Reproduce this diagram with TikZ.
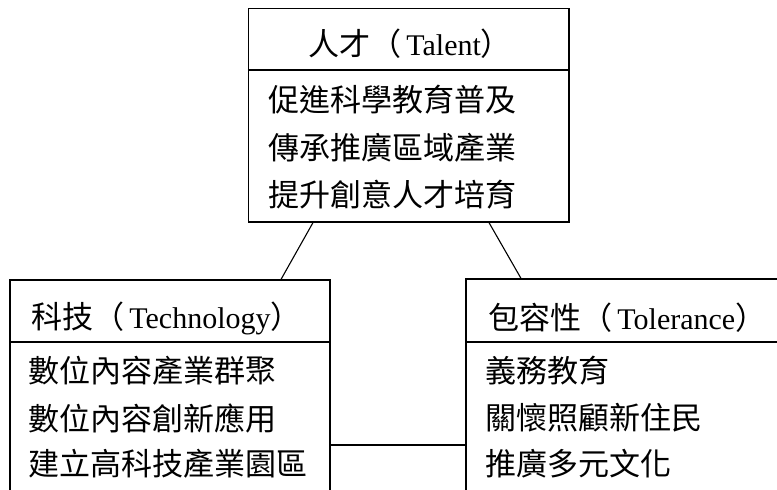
\documentclass[tikz,border=0pt]{standalone}
\usepackage{fontspec}
\setmainfont{Liberation Serif}
\newfontfamily\cjk{Noto Sans CJK TC}[Scale=1.035]
\usetikzlibrary{calc}
\begin{document}
\begin{tikzpicture}[x=1pt,y=1pt,
  box/.style={draw,line width=1.2pt,rectangle,inner sep=0pt},
  txt/.style={anchor=west,inner sep=0pt,font=\fontsize{30}{34}\selectfont\cjk},
  hdr/.style={anchor=west,inner sep=0pt,font=\fontsize{30}{34}\selectfont},
  link/.style={line width=1.1pt}]
\useasboundingbox (0,0) rectangle (777,-490);
\clip (0,0) rectangle (777,-490);
% boxes
\node[box,minimum width=320.5pt,minimum height=213.5pt] (talent) at (408.75,-115.25) {};
\node[box,minimum width=320pt,minimum height=240pt] (tech) at (170,-400) {};
\node[box,minimum width=334pt,minimum height=240pt] (tol) at (633,-399) {};
% dividers
\draw[link] (talent.west |- 0,-70) coordinate (td1) -- (talent.east |- 0,-70) coordinate (td2);
\draw[link] (tech.west |- 0,-342) coordinate (kd1) -- (tech.east |- 0,-342) coordinate (kd2);
\draw[link] (tol.west |- 0,-342) coordinate (ld1) -- (tol.east |- 0,-342) coordinate (ld2);
% headers
\node[hdr] (th) at (308,-44) {{\cjk 人才（}\,Talent{\cjk ）}};
\node[hdr] (kh) at (31,-318) {{\cjk 科技（}\,Technology{\cjk ）}};
\node[hdr] (lh) at (488,-318) {{\cjk 包容性（}\,Tolerance{\cjk ）}};
% items
\node[txt] (t1) at (268,-100) {促進科學教育普及};
\node[txt] (t2) at (268,-148) {傳承推廣區域產業};
\node[txt] (t3) at (268,-195) {提升創意人才培育};
\node[txt] (k1) at (28,-371) {數位內容產業群聚};
\node[txt] (k2) at (28,-418) {數位內容創新應用};
\node[txt] (k3) at (28,-464) {建立高科技產業園區};
\node[txt] (l1) at (485,-371) {義務教育};
\node[txt] (l2) at (485,-418) {關懷照顧新住民};
\node[txt] (l3) at (485,-464) {推廣多元文化};
% connectors
\coordinate (a1) at (talent.south west -| 313,0);
\coordinate (a2) at (tech.north west -| 281,0);
\coordinate (b1) at (talent.south west -| 489,0);
\coordinate (b2) at (tol.north west -| 521,0);
\draw[link] (a1) -- (a2);
\draw[link] (b1) -- (b2);
\draw[link] (tech.east |- 0,-445) -- (tol.west |- 0,-445);
\end{tikzpicture}
\end{document}
